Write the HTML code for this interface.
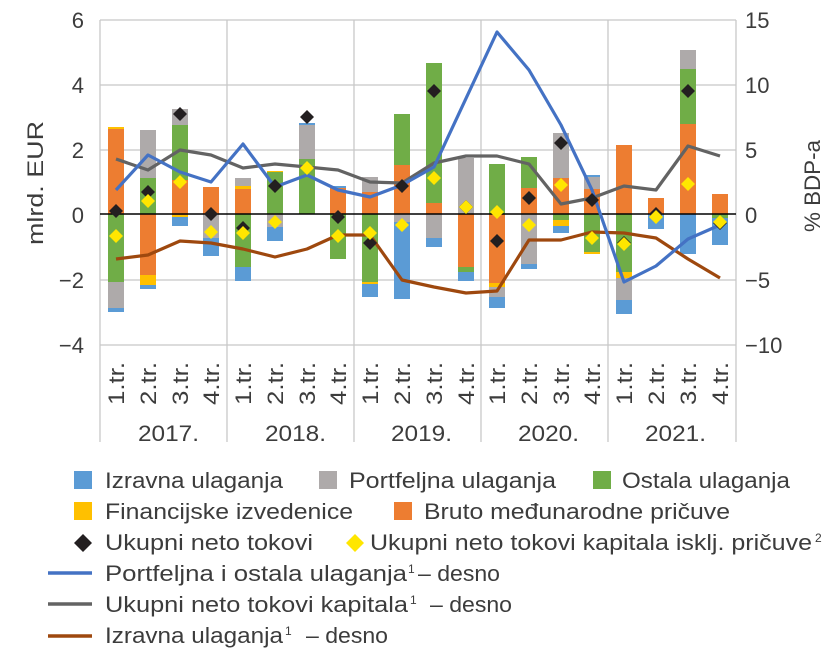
<!DOCTYPE html>
<html><head><meta charset="utf-8"><style>
body{margin:0;background:#fff;}
svg text{font-family:"Liberation Sans",sans-serif;fill:#3c3c3c;}
</style></head><body>
<svg width="840" height="660" xmlns="http://www.w3.org/2000/svg">
<g stroke="#c8c8c8" stroke-width="1.3">
<line x1="100" y1="20" x2="736" y2="20"/><line x1="100" y1="85" x2="736" y2="85"/><line x1="100" y1="150" x2="736" y2="150"/><line x1="100" y1="280" x2="736" y2="280"/><line x1="100" y1="345" x2="736" y2="345"/>
<line x1="100" y1="20" x2="100" y2="442"/><line x1="227" y1="20" x2="227" y2="442"/><line x1="354" y1="20" x2="354" y2="442"/><line x1="481" y1="20" x2="481" y2="442"/><line x1="608" y1="20" x2="608" y2="442"/><line x1="736" y1="20" x2="736" y2="442"/>
</g>
<g>
<rect x="108" y="128" width="16" height="86" fill="#ed7d31"/><rect x="108" y="127" width="16" height="2" fill="#ffc000"/>
<rect x="108" y="214" width="16" height="68" fill="#70ad47"/><rect x="108" y="282" width="16" height="26" fill="#aeaaaa"/><rect x="108" y="308" width="16" height="4" fill="#5b9bd5"/>
<rect x="140" y="130" width="16" height="48" fill="#aeaaaa"/><rect x="140" y="178" width="16" height="36" fill="#70ad47"/>
<rect x="140" y="214" width="16" height="61" fill="#ed7d31"/><rect x="140" y="275" width="16" height="10" fill="#ffc000"/><rect x="140" y="285" width="16" height="4" fill="#5b9bd5"/>
<rect x="172" y="109" width="16" height="16" fill="#aeaaaa"/><rect x="172" y="125" width="16" height="55" fill="#70ad47"/><rect x="172" y="180" width="16" height="35" fill="#ed7d31"/>
<rect x="172" y="215" width="16" height="2" fill="#ffc000"/><rect x="172" y="217" width="16" height="9" fill="#5b9bd5"/>
<rect x="203" y="187" width="16" height="27" fill="#ed7d31"/><rect x="203" y="214" width="16" height="24" fill="#aeaaaa"/><rect x="203" y="238" width="16" height="18" fill="#5b9bd5"/>
<rect x="235" y="178" width="16" height="8" fill="#aeaaaa"/><rect x="235" y="186" width="16" height="3" fill="#ffc000"/><rect x="235" y="189" width="16" height="25" fill="#ed7d31"/>
<rect x="235" y="214" width="16" height="53" fill="#70ad47"/><rect x="235" y="267" width="16" height="14" fill="#5b9bd5"/>
<rect x="267" y="171" width="16" height="2" fill="#ffc000"/><rect x="267" y="172" width="16" height="42" fill="#70ad47"/>
<rect x="267" y="214" width="16" height="13" fill="#aeaaaa"/><rect x="267" y="227" width="16" height="14" fill="#5b9bd5"/>
<rect x="299" y="123" width="16" height="2" fill="#5b9bd5"/><rect x="299" y="125" width="16" height="34" fill="#aeaaaa"/><rect x="299" y="159" width="16" height="55" fill="#70ad47"/>
<rect x="330" y="186" width="16" height="2" fill="#5b9bd5"/><rect x="330" y="188" width="16" height="26" fill="#ed7d31"/><rect x="330" y="214" width="16" height="45" fill="#70ad47"/>
<rect x="362" y="177" width="16" height="15" fill="#aeaaaa"/><rect x="362" y="192" width="16" height="22" fill="#ed7d31"/>
<rect x="362" y="214" width="16" height="68" fill="#70ad47"/><rect x="362" y="282" width="16" height="2" fill="#ffc000"/><rect x="362" y="284" width="16" height="13" fill="#5b9bd5"/>
<rect x="394" y="114" width="16" height="51" fill="#70ad47"/><rect x="394" y="165" width="16" height="49" fill="#ed7d31"/>
<rect x="394" y="214" width="16" height="8" fill="#aeaaaa"/><rect x="394" y="222" width="16" height="77" fill="#5b9bd5"/>
<rect x="426" y="63" width="16" height="140" fill="#70ad47"/><rect x="426" y="203" width="16" height="11" fill="#ed7d31"/>
<rect x="426" y="214" width="16" height="24" fill="#aeaaaa"/><rect x="426" y="238" width="16" height="9" fill="#5b9bd5"/>
<rect x="458" y="158" width="16" height="56" fill="#aeaaaa"/>
<rect x="458" y="214" width="16" height="53" fill="#ed7d31"/><rect x="458" y="267" width="16" height="5" fill="#70ad47"/><rect x="458" y="272" width="16" height="9" fill="#5b9bd5"/>
<rect x="489" y="164" width="16" height="50" fill="#70ad47"/>
<rect x="489" y="214" width="16" height="69" fill="#ed7d31"/><rect x="489" y="283" width="16" height="4" fill="#ffc000"/><rect x="489" y="287" width="16" height="10" fill="#aeaaaa"/><rect x="489" y="297" width="16" height="11" fill="#5b9bd5"/>
<rect x="521" y="157" width="16" height="31" fill="#70ad47"/><rect x="521" y="188" width="16" height="26" fill="#ed7d31"/>
<rect x="521" y="214" width="16" height="50" fill="#aeaaaa"/><rect x="521" y="264" width="16" height="5" fill="#5b9bd5"/>
<rect x="553" y="133" width="16" height="45" fill="#aeaaaa"/><rect x="553" y="178" width="16" height="36" fill="#ed7d31"/>
<rect x="553" y="214" width="16" height="6" fill="#70ad47"/><rect x="553" y="220" width="16" height="6" fill="#ffc000"/><rect x="553" y="226" width="16" height="7" fill="#5b9bd5"/>
<rect x="584" y="175" width="16" height="2" fill="#5b9bd5"/><rect x="584" y="177" width="16" height="12" fill="#aeaaaa"/><rect x="584" y="189" width="16" height="25" fill="#ed7d31"/>
<rect x="584" y="214" width="16" height="38" fill="#70ad47"/><rect x="584" y="252" width="16" height="2" fill="#ffc000"/>
<rect x="616" y="145" width="16" height="69" fill="#ed7d31"/>
<rect x="616" y="214" width="16" height="58" fill="#70ad47"/><rect x="616" y="272" width="16" height="6" fill="#ffc000"/><rect x="616" y="278" width="16" height="22" fill="#aeaaaa"/><rect x="616" y="300" width="16" height="14" fill="#5b9bd5"/>
<rect x="648" y="198" width="16" height="16" fill="#ed7d31"/><rect x="648" y="214" width="16" height="15" fill="#5b9bd5"/>
<rect x="680" y="50" width="16" height="19" fill="#aeaaaa"/><rect x="680" y="69" width="16" height="55" fill="#70ad47"/><rect x="680" y="124" width="16" height="90" fill="#ed7d31"/>
<rect x="680" y="214" width="16" height="40" fill="#5b9bd5"/>
<rect x="712" y="194" width="16" height="20" fill="#ed7d31"/><rect x="712" y="214" width="16" height="4" fill="#70ad47"/><rect x="712" y="218" width="16" height="27" fill="#5b9bd5"/>
</g>
<line x1="100" y1="214" x2="736" y2="214" stroke="#000" stroke-width="1.5"/>
<g fill="none" stroke-width="3.2" stroke-linejoin="round">
<polyline stroke="#9e480e" points="116,259 148,255 180,241 211,243 243,249 275,257 307,249 338,235 370,235 402,280 434,287 466,293 497,291 529,240 561,240 592,232 624,233 656,238 688,259 720,278"/>
<polyline stroke="#636363" points="116,159 148,170 180,150 211,155 243,168 275,164 307,167 338,170 370,182 402,183 434,163 466,156 497,156 529,164 561,204 592,198 624,186 656,190 688,146 720,156"/>
<polyline stroke="#4472c4" points="116,190 148,155 180,172 211,182 243,144 275,187 307,175 338,190 370,197 402,185 434,167 497,32 529,70 561,125 592,190 624,282 656,266 688,239 720,225"/>
</g>
<g fill="#231f20">
<path d="M116,204l7,7l-7,7l-7,-7z"/><path d="M148,185l7,7l-7,7l-7,-7z"/><path d="M180,107l7,7l-7,7l-7,-7z"/><path d="M211,207l7,7l-7,7l-7,-7z"/>
<path d="M243,221l7,7l-7,7l-7,-7z"/><path d="M275,179l7,7l-7,7l-7,-7z"/><path d="M307,110l7,7l-7,7l-7,-7z"/><path d="M338,210l7,7l-7,7l-7,-7z"/>
<path d="M370,236l7,7l-7,7l-7,-7z"/><path d="M402,179l7,7l-7,7l-7,-7z"/><path d="M434,84l7,7l-7,7l-7,-7z"/><path d="M466,200l7,7l-7,7l-7,-7z"/>
<path d="M497,234l7,7l-7,7l-7,-7z"/><path d="M529,191l7,7l-7,7l-7,-7z"/><path d="M561,136l7,7l-7,7l-7,-7z"/><path d="M592,193l7,7l-7,7l-7,-7z"/>
<path d="M624,236l7,7l-7,7l-7,-7z"/><path d="M656,207l7,7l-7,7l-7,-7z"/><path d="M688,84l7,7l-7,7l-7,-7z"/><path d="M720,216l7,7l-7,7l-7,-7z"/>
</g>
<g fill="#ffe600">
<path d="M116,229l7,7l-7,7l-7,-7z"/><path d="M148,194l7,7l-7,7l-7,-7z"/><path d="M180,175l7,7l-7,7l-7,-7z"/><path d="M211,225l7,7l-7,7l-7,-7z"/>
<path d="M243,226l7,7l-7,7l-7,-7z"/><path d="M275,215l7,7l-7,7l-7,-7z"/><path d="M307,161l7,7l-7,7l-7,-7z"/><path d="M338,229l7,7l-7,7l-7,-7z"/>
<path d="M370,226l7,7l-7,7l-7,-7z"/><path d="M402,218l7,7l-7,7l-7,-7z"/><path d="M434,171l7,7l-7,7l-7,-7z"/><path d="M466,200l7,7l-7,7l-7,-7z"/>
<path d="M497,205l7,7l-7,7l-7,-7z"/><path d="M529,218l7,7l-7,7l-7,-7z"/><path d="M561,178l7,7l-7,7l-7,-7z"/><path d="M592,231l7,7l-7,7l-7,-7z"/>
<path d="M624,237l7,7l-7,7l-7,-7z"/><path d="M656,210l7,7l-7,7l-7,-7z"/><path d="M688,177l7,7l-7,7l-7,-7z"/><path d="M720,215l7,7l-7,7l-7,-7z"/>
</g>
<g font-size="22" text-anchor="end">
<text x="84" y="28">6</text><text x="84" y="93">4</text><text x="84" y="158">2</text><text x="84" y="223">0</text><text x="84" y="288">−2</text><text x="84" y="353">−4</text>
</g>
<g font-size="22" text-anchor="start">
<text x="745" y="28">15</text><text x="745" y="93">10</text><text x="745" y="158">5</text><text x="745" y="223">0</text><text x="745" y="288">−5</text><text x="745" y="353">−10</text>
</g>
<text font-size="22" transform="translate(43,245) rotate(-90)" textLength="124" lengthAdjust="spacingAndGlyphs">mlrd. EUR</text>
<text font-size="22" transform="translate(820,232) rotate(-90)" textLength="92" lengthAdjust="spacingAndGlyphs">% BDP-a</text>
<g font-size="22" text-anchor="start">
<text transform="translate(124,405) rotate(-90)" textLength="43" lengthAdjust="spacingAndGlyphs">1.tr.</text><text transform="translate(156,405) rotate(-90)" textLength="43" lengthAdjust="spacingAndGlyphs">2.tr.</text><text transform="translate(188,405) rotate(-90)" textLength="43" lengthAdjust="spacingAndGlyphs">3.tr.</text><text transform="translate(219,405) rotate(-90)" textLength="43" lengthAdjust="spacingAndGlyphs">4.tr.</text>
<text transform="translate(251,405) rotate(-90)" textLength="43" lengthAdjust="spacingAndGlyphs">1.tr.</text><text transform="translate(283,405) rotate(-90)" textLength="43" lengthAdjust="spacingAndGlyphs">2.tr.</text><text transform="translate(315,405) rotate(-90)" textLength="43" lengthAdjust="spacingAndGlyphs">3.tr.</text><text transform="translate(346,405) rotate(-90)" textLength="43" lengthAdjust="spacingAndGlyphs">4.tr.</text>
<text transform="translate(378,405) rotate(-90)" textLength="43" lengthAdjust="spacingAndGlyphs">1.tr.</text><text transform="translate(410,405) rotate(-90)" textLength="43" lengthAdjust="spacingAndGlyphs">2.tr.</text><text transform="translate(442,405) rotate(-90)" textLength="43" lengthAdjust="spacingAndGlyphs">3.tr.</text><text transform="translate(474,405) rotate(-90)" textLength="43" lengthAdjust="spacingAndGlyphs">4.tr.</text>
<text transform="translate(505,405) rotate(-90)" textLength="43" lengthAdjust="spacingAndGlyphs">1.tr.</text><text transform="translate(537,405) rotate(-90)" textLength="43" lengthAdjust="spacingAndGlyphs">2.tr.</text><text transform="translate(569,405) rotate(-90)" textLength="43" lengthAdjust="spacingAndGlyphs">3.tr.</text><text transform="translate(600,405) rotate(-90)" textLength="43" lengthAdjust="spacingAndGlyphs">4.tr.</text>
<text transform="translate(632,405) rotate(-90)" textLength="43" lengthAdjust="spacingAndGlyphs">1.tr.</text><text transform="translate(664,405) rotate(-90)" textLength="43" lengthAdjust="spacingAndGlyphs">2.tr.</text><text transform="translate(696,405) rotate(-90)" textLength="43" lengthAdjust="spacingAndGlyphs">3.tr.</text><text transform="translate(728,405) rotate(-90)" textLength="43" lengthAdjust="spacingAndGlyphs">4.tr.</text>
</g>
<g font-size="22">
<text x="138" y="441" textLength="61" lengthAdjust="spacingAndGlyphs">2017.</text><text x="265" y="441" textLength="61" lengthAdjust="spacingAndGlyphs">2018.</text><text x="391" y="441" textLength="61" lengthAdjust="spacingAndGlyphs">2019.</text><text x="518" y="441" textLength="61" lengthAdjust="spacingAndGlyphs">2020.</text><text x="645" y="441" textLength="61" lengthAdjust="spacingAndGlyphs">2021.</text>
</g>
<g font-size="22">
<rect x="74" y="471" width="18" height="18" fill="#5b9bd5"/><text x="105" y="488" textLength="178" lengthAdjust="spacingAndGlyphs">Izravna ulaganja</text>
<rect x="319" y="471" width="18" height="18" fill="#aeaaaa"/><text x="349" y="488" textLength="207" lengthAdjust="spacingAndGlyphs">Portfeljna ulaganja</text>
<rect x="593" y="471" width="18" height="18" fill="#70ad47"/><text x="622" y="488" textLength="168" lengthAdjust="spacingAndGlyphs">Ostala ulaganja</text>
<rect x="74" y="502" width="18" height="18" fill="#ffc000"/><text x="105" y="519" textLength="248" lengthAdjust="spacingAndGlyphs">Financijske izvedenice</text>
<rect x="394" y="502" width="18" height="18" fill="#ed7d31"/><text x="424" y="519" textLength="306" lengthAdjust="spacingAndGlyphs">Bruto međunarodne pričuve</text>
<path d="M83,534l9,9l-9,9l-9,-9z" fill="#231f20"/><text x="105" y="550" textLength="208" lengthAdjust="spacingAndGlyphs">Ukupni neto tokovi</text>
<path d="M355,534l9,9l-9,9l-9,-9z" fill="#ffe600"/><text x="370" y="550" textLength="442" lengthAdjust="spacingAndGlyphs">Ukupni neto tokovi kapitala isklj. pričuve</text><text x="815" y="542" font-size="12">2</text>
<line x1="48" y1="573" x2="92" y2="573" stroke="#4472c4" stroke-width="3.5"/><text x="105" y="581" textLength="302" lengthAdjust="spacingAndGlyphs">Portfeljna i ostala ulaganja</text><text x="408" y="573" font-size="12">1</text><text x="418" y="581" textLength="82" lengthAdjust="spacingAndGlyphs">– desno</text>
<line x1="48" y1="604" x2="92" y2="604" stroke="#636363" stroke-width="3.5"/><text x="105" y="612" textLength="303" lengthAdjust="spacingAndGlyphs">Ukupni neto tokovi kapitala</text><text x="410" y="604" font-size="12">1</text><text x="430" y="612" textLength="82" lengthAdjust="spacingAndGlyphs">– desno</text>
<line x1="48" y1="636" x2="92" y2="636" stroke="#9e480e" stroke-width="3.5"/><text x="105" y="643" textLength="178" lengthAdjust="spacingAndGlyphs">Izravna ulaganja</text><text x="285" y="635" font-size="12">1</text><text x="306" y="643" textLength="82" lengthAdjust="spacingAndGlyphs">– desno</text>
</g>
</svg>
</body></html>
